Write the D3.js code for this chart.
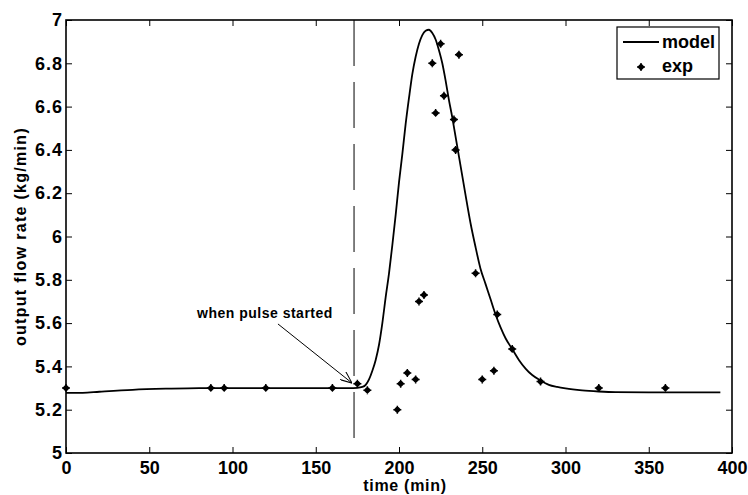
<!DOCTYPE html>
<html>
<head>
<meta charset="utf-8">
<script src="https://cdn.jsdelivr.net/npm/d3@7"></script>
<style>
  body { margin: 0; background: #fff; }
  text { font-family: "Liberation Sans", Arial, sans-serif; font-weight: bold; fill: #000; }
</style>
</head>
<body>
<svg id="drawing_region"></svg>
<script>
// model curve (time in min, flow in kg/min)
const modelTime = [0, 10, 20, 40, 60, 80, 100, 120, 140, 160, 170, 175, 178, 180, 182, 184, 186, 188, 190, 192,
    194, 196, 198, 200, 202, 204, 206, 208, 210, 212, 214, 216, 218, 220, 222, 224, 226, 228, 230, 232,
    234, 236, 238, 240, 243, 246, 249, 252, 255, 258, 261, 264, 268, 272, 276, 280, 285, 290, 295, 300,
    310, 320, 330, 350, 370, 393];
const modelFlow = [5.278, 5.278, 5.283, 5.292, 5.297, 5.300, 5.300, 5.300, 5.300, 5.300, 5.300, 5.301, 5.305, 5.315, 5.34, 5.38, 5.43, 5.50, 5.60, 5.72,
    5.83, 5.96, 6.10, 6.25, 6.38, 6.52, 6.64, 6.75, 6.83, 6.89, 6.93, 6.95, 6.955, 6.94, 6.91, 6.86, 6.80, 6.72, 6.63, 6.55,
    6.46, 6.37, 6.28, 6.19, 6.06, 5.95, 5.85, 5.78, 5.71, 5.64, 5.58, 5.53, 5.48, 5.43, 5.39, 5.36, 5.335, 5.315, 5.305, 5.298,
    5.289, 5.284, 5.281, 5.28, 5.28, 5.28];

// experimental points
const expTime = [0, 87, 95, 120, 160, 175, 181, 199, 201, 205, 210, 212, 215, 220, 222, 225, 227, 233, 234, 236,
    246, 250, 257, 259, 268, 285, 320, 360];
const expFlow = [5.30, 5.30, 5.30, 5.30, 5.30, 5.32, 5.29, 5.20, 5.32, 5.37, 5.34, 5.70, 5.73, 6.80, 6.57, 6.89, 6.65, 6.54, 6.40, 6.84,
    5.83, 5.34, 5.38, 5.64, 5.48, 5.33, 5.30, 5.30];

const xTicks = [0, 50, 100, 150, 200, 250, 300, 350, 400];
const yTicks = [5, 5.2, 5.4, 5.6, 5.8, 6, 6.2, 6.4, 6.6, 6.8, 7];

const pulseTime = 173;

const width = 748, height = 495;
const margin = { top: 20, right: 16, bottom: 42, left: 66 };

const svg = d3.select('#drawing_region')
    .attr('width', width)
    .attr('height', height);

const x = d3.scaleLinear().domain([0, 400]).range([margin.left, width - margin.right]);
const y = d3.scaleLinear().domain([5, 7]).range([height - margin.bottom, margin.top]);

const fmt = d => String(d);

// axes, ticks pointing inward
svg.append('g')
    .attr('class', 'xlab')
    .attr('transform', `translate(0, ${y(5)})`)
    .call(d3.axisBottom(x).tickValues(xTicks).tickFormat(fmt).tickSizeInner(-6).tickSizeOuter(0).tickPadding(8));
svg.append('g')
    .attr('class', 'ylab')
    .attr('transform', `translate(${x(0)}, 0)`)
    .call(d3.axisLeft(y).tickValues(yTicks).tickFormat(fmt).tickSizeInner(-6).tickSizeOuter(0).tickPadding(3));
svg.append('g')
    .attr('transform', `translate(0, ${y(7)})`)
    .call(d3.axisTop(x).tickValues(xTicks).tickFormat('').tickSizeInner(-6).tickSizeOuter(0));
svg.append('g')
    .attr('transform', `translate(${x(400)}, 0)`)
    .call(d3.axisRight(y).tickValues(yTicks).tickFormat('').tickSizeInner(-6).tickSizeOuter(0));

svg.selectAll('.domain').remove();
svg.selectAll('.tick line').attr('stroke', '#000').attr('stroke-width', 1);
svg.selectAll('.ylab .tick text')
    .style('font-size', '18px')
    .style('letter-spacing', '1px')
    .attr('fill', '#000');
svg.selectAll('.xlab .tick text')
    .style('font-size', '18px')
    .attr('fill', '#000');

// box
svg.append('rect')
    .attr('x', x(0)).attr('y', y(7))
    .attr('width', x(400) - x(0)).attr('height', y(5) - y(7))
    .attr('fill', 'none').attr('stroke', '#000').attr('stroke-width', 1.6);

// pulse start marker
svg.append('line')
    .attr('x1', x(pulseTime)).attr('x2', x(pulseTime))
    .attr('y1', y(7)).attr('y2', y(5))
    .attr('stroke', '#000').attr('stroke-width', 1)
    .attr('stroke-dasharray', '46,16');

// model line
const model = modelTime.map((t, i) => ({ t: t, v: modelFlow[i] }));
svg.append('path')
    .datum(model)
    .attr('fill', 'none')
    .attr('stroke', '#000')
    .attr('stroke-width', 1.8)
    .attr('d', d3.line().x(d => x(d.t)).y(d => y(d.v)).curve(d3.curveMonotoneX));

// exp markers
const starPath = 'M-2.8,0L0,-2.8L2.8,0L0,2.8Z M-4,0H4 M0,-4V4';
const exp = expTime.map((t, i) => ({ t: t, v: expFlow[i] }));
svg.append('g').selectAll('path')
    .data(exp)
    .join('path')
    .attr('transform', d => `translate(${x(d.t)}, ${y(d.v)})`)
    .attr('d', starPath)
    .attr('fill', '#000')
    .attr('stroke', '#000')
    .attr('stroke-width', 1.5);

// annotation
svg.append('defs').append('marker')
    .attr('id', 'arrow')
    .attr('viewBox', '0 0 12 10')
    .attr('refX', 12).attr('refY', 5)
    .attr('markerWidth', 12).attr('markerHeight', 10)
    .attr('markerUnits', 'userSpaceOnUse')
    .attr('orient', 'auto')
    .append('path')
    .attr('d', 'M0,0L12,5L0,10')
    .attr('fill', 'none')
    .attr('stroke', '#000')
    .attr('stroke-width', 1);

svg.append('line')
    .attr('x1', x(127.3)).attr('y1', y(5.596))
    .attr('x2', x(171.8)).attr('y2', y(5.323))
    .attr('stroke', '#000').attr('stroke-width', 1)
    .attr('marker-end', 'url(#arrow)');

svg.append('text')
    .attr('x', x(119.5)).attr('y', y(5.624))
    .attr('text-anchor', 'middle')
    .style('font-size', '14px')
    .style('letter-spacing', '0.5px')
    .text('when pulse started');

// axis labels
svg.append('text')
    .attr('x', 405).attr('y', 491)
    .attr('text-anchor', 'middle')
    .style('font-size', '16px')
    .style('letter-spacing', '0.7px')
    .text('time (min)');

svg.append('text')
    .attr('transform', `translate(26, ${(y(5) + y(7)) / 2}) rotate(-90)`)
    .attr('text-anchor', 'middle')
    .style('font-size', '16px')
    .style('letter-spacing', '1.3px')
    .text('output flow rate (kg/min)');

// legend
const lg = svg.append('g').attr('transform', 'translate(617, 27)');
lg.append('rect')
    .attr('width', 102).attr('height', 52)
    .attr('fill', '#fff').attr('stroke', '#000').attr('stroke-width', 1.2);
lg.append('line')
    .attr('x1', 6).attr('x2', 42).attr('y1', 15).attr('y2', 15)
    .attr('stroke', '#000').attr('stroke-width', 1.8);
lg.append('text').attr('x', 45).attr('y', 21).style('font-size', '18px').text('model');
lg.append('path')
    .attr('transform', 'translate(24, 40)')
    .attr('d', starPath)
    .attr('fill', '#000').attr('stroke', '#000').attr('stroke-width', 1.5);
lg.append('text').attr('x', 45).attr('y', 45).style('font-size', '18px').text('exp');
</script>
</body>
</html>
